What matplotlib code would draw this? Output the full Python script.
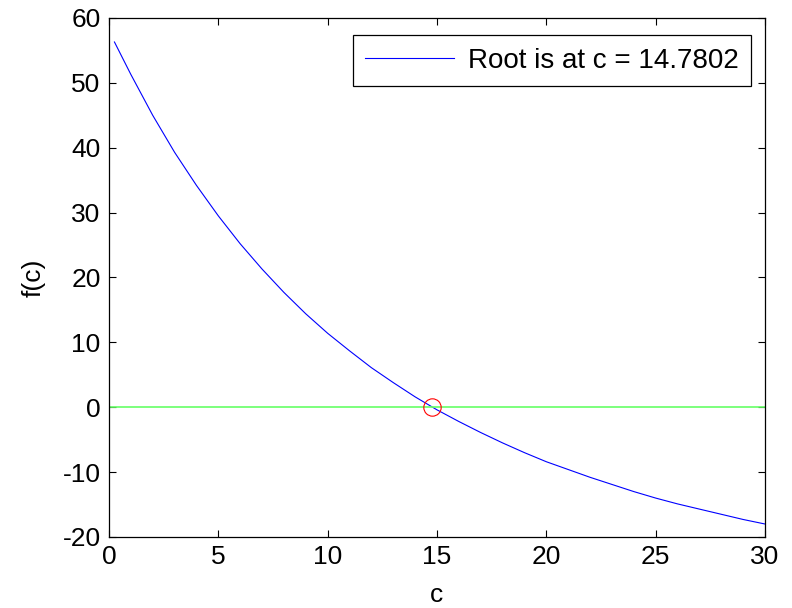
import numpy as np
import matplotlib.pyplot as plt

plt.rcParams['font.family'] = ['Liberation Sans', 'DejaVu Sans']
plt.rcParams['axes.unicode_minus'] = False

# f(c) values
c_vals = [0.25, 1, 2, 3, 4, 5, 6, 7, 8, 9, 10, 11, 12, 13, 14, 15,
          16, 17, 18, 19, 20, 21, 22, 23, 24, 25, 26, 27, 28, 29, 30]
f_vals = [56.3, 51.3, 45.0, 39.3, 34.2, 29.5, 25.2, 21.3, 17.7, 14.4,
          11.4, 8.7, 6.1, 3.8, 1.6, -0.4, -2.2, -3.9, -5.5, -7.0,
          -8.4, -9.6, -10.8, -11.9, -13.0, -14.0, -14.9, -15.7, -16.5,
          -17.3, -18.0]
zero_x = [0, 30]
zero_y = [0, 0]
root = 14.7802

fig = plt.figure(figsize=(7.92, 6.08), dpi=100)
ax = fig.add_axes([0.1376, 0.1168, 0.8283, 0.8536])

ax.plot(c_vals, f_vals, color='#0000ff', lw=0.8,
        label='Root is at c = %.4f' % root)
ax.plot(zero_x, zero_y, color='#66ff66', lw=1.2)
ax.plot([root], [0], 'o', ms=12.5, mfc='none', mec='red', mew=0.8)

ax.set_xlim(0, 30)
ax.set_ylim(-20, 60)
ax.set_xticks([0, 5, 10, 15, 20, 25, 30])
ax.set_yticks([-20, -10, 0, 10, 20, 30, 40, 50, 60])
ax.tick_params(direction='in', length=5, width=0.8, labelsize=19,
               top=True, right=True)
ax.tick_params(axis='x', pad=6)
ax.tick_params(axis='y', pad=6)
for s in ax.spines.values():
    s.set_linewidth(0.9)

ax.set_xlabel('c', fontsize=19, labelpad=10)
ax.set_ylabel('f(c)', fontsize=19, labelpad=12)

leg = ax.legend(loc='upper right', bbox_to_anchor=(0.979, 0.967),
                borderaxespad=0, fontsize=20, handlelength=3.2,
                fancybox=False, framealpha=1, borderpad=0.45,
                handletextpad=0.5)
leg.get_frame().set_edgecolor('black')
leg.get_frame().set_linewidth(0.9)

fig.savefig('out.png', dpi=100)
